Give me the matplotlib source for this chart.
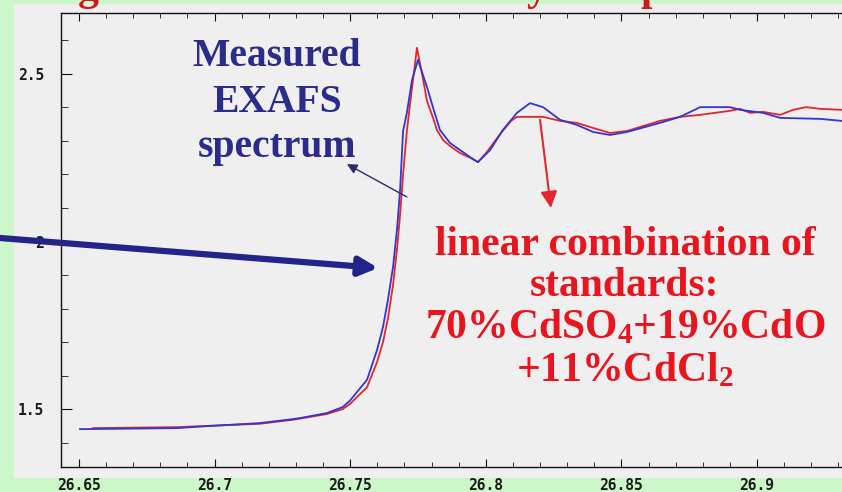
import matplotlib
matplotlib.use("Agg")
import matplotlib.pyplot as plt
from matplotlib.patches import Rectangle
from matplotlib.ticker import MultipleLocator

plt.rcParams["mathtext.fontset"] = "custom"
plt.rcParams["mathtext.rm"] = "Liberation Serif:bold"
plt.rcParams["mathtext.it"] = "Liberation Serif:bold"
plt.rcParams["mathtext.bf"] = "Liberation Serif:bold"

# Photon energy (keV) and normalised absorption of the measured spectrum
measured_energy = [26.6504, 26.6861, 26.6972, 26.7167, 26.7289, 26.7315, 26.7414,
                   26.7473, 26.7499, 26.7562, 26.7599, 26.7621, 26.7639, 26.7658,
                   26.7673, 26.7684, 26.7695, 26.7709, 26.7728, 26.7750, 26.7783,
                   26.7805, 26.7831, 26.7868, 26.7905, 26.7942, 26.7971, 26.8016,
                   26.8063, 26.8115, 26.8163, 26.8211, 26.8274, 26.8336, 26.8395,
                   26.8458, 26.8521, 26.8642, 26.8716, 26.8790, 26.8900, 26.8937,
                   26.9022, 26.9085, 26.9232, 26.9313]
measured_mu = [1.440, 1.443, 1.449, 1.458, 1.470, 1.473, 1.488,
               1.506, 1.525, 1.587, 1.676, 1.745, 1.825, 1.924,
               2.040, 2.154, 2.330, 2.384, 2.482, 2.542, 2.461,
               2.401, 2.333, 2.294, 2.273, 2.252, 2.237, 2.273,
               2.333, 2.384, 2.413, 2.401, 2.363, 2.348, 2.327,
               2.318, 2.327, 2.354, 2.372, 2.401, 2.401, 2.393,
               2.384, 2.369, 2.366, 2.360]

# Linear combination of reference standards
fit_energy = [26.6552, 26.6861, 26.7167, 26.7289, 26.7414, 26.7473, 26.7499,
              26.7562, 26.7599, 26.7621, 26.7639, 26.7658, 26.7673, 26.7684,
              26.7695, 26.7709, 26.7728, 26.7739, 26.7746, 26.7765, 26.7783,
              26.7805, 26.7820, 26.7842, 26.7868, 26.7905, 26.7942, 26.7971,
              26.8001, 26.8052, 26.8093, 26.8115, 26.8163, 26.8211, 26.8274,
              26.8336, 26.8395, 26.8458, 26.8521, 26.8642, 26.8716, 26.8790,
              26.8900, 26.8937, 26.8974, 26.9022, 26.9085, 26.9133, 26.9180,
              26.9232, 26.9313]
fit_mu = [1.443, 1.446, 1.456, 1.468, 1.485, 1.500, 1.515,
          1.565, 1.640, 1.700, 1.770, 1.870, 1.980, 2.080,
          2.200, 2.330, 2.460, 2.530, 2.578, 2.500, 2.420,
          2.370, 2.333, 2.303, 2.285, 2.264, 2.250, 2.237,
          2.264, 2.320, 2.360, 2.372, 2.372, 2.372, 2.360,
          2.354, 2.339, 2.324, 2.330, 2.360, 2.372, 2.378,
          2.390, 2.396, 2.384, 2.387, 2.378, 2.393, 2.401,
          2.396, 2.393]

x_ticks = [26.65, 26.7, 26.75, 26.8, 26.85, 26.9]
x_tick_labels = ["26.65", "26.7", "26.75", "26.8", "26.85", "26.9"]
y_ticks = [1.5, 2.0, 2.5]
y_tick_labels = ["1.5", "2", "2.5"]

W, H = 842, 492
fig = plt.figure(figsize=(W / 100, H / 100), dpi=100)
fig.patch.set_facecolor("#ccf7c8")
panel = "#efefef"
fig.patches.append(Rectangle((14 / W, 1 - 478 / H), 1 - 14 / W, 474 / H,
                             transform=fig.transFigure, facecolor=panel,
                             edgecolor="none", zorder=-10))

ax = fig.add_axes([61 / W, 1 - 467 / H, 1 - 61 / W, (467 - 13) / H])
ax.set_facecolor(panel)
ax.set_xlim(26.6434, 26.9313)
ax.set_ylim(1.327, 2.682)

ax.plot(fit_energy, fit_mu, color="#e3262c", lw=1.3, zorder=3)
ax.plot(measured_energy, measured_mu, color="#3333d6", lw=1.3, zorder=4)

ax.spines["right"].set_visible(False)
for s in ("left", "bottom", "top"):
    ax.spines[s].set_color("#111111")
    ax.spines[s].set_linewidth(1.0)

ax.set_xticks(x_ticks)
ax.set_xticklabels(x_tick_labels)
ax.set_yticks(y_ticks)
ax.set_yticklabels(y_tick_labels)
ax.xaxis.set_minor_locator(MultipleLocator(0.01))
ax.yaxis.set_minor_locator(MultipleLocator(0.1))
ax.tick_params(axis="x", which="both", direction="in", top=True, bottom=True,
               color="#111111")
ax.tick_params(axis="x", which="major", length=6, pad=8)
ax.tick_params(axis="x", which="minor", length=3.5)
ax.tick_params(axis="y", which="both", direction="in", left=True, right=False,
               color="#111111")
ax.tick_params(axis="y", which="major", length=8, pad=12)
ax.tick_params(axis="y", which="minor", length=5)
for lab in ax.get_xticklabels() + ax.get_yticklabels():
    lab.set_fontfamily("DejaVu Sans Mono")
    lab.set_fontweight("bold")
    lab.set_fontsize(10.5)
    lab.set_color("#1a1a1a")

serif = "Liberation Serif"

# Callout for the measured curve
ax.text(26.7230, 2.416, "Measured\nEXAFS\nspectrum", ha="center", va="center",
        fontfamily=serif, fontweight="bold", fontsize=28.5, color="#2b2b8c",
        linespacing=1.3, zorder=6)
ax.annotate("", xy=(26.7488, 2.231), xytext=(26.7709, 2.133),
            arrowprops=dict(arrowstyle="-|>,head_length=0.6,head_width=0.3",
                            color="#2b2b6e", lw=1.0, shrinkA=0, shrinkB=0),
            zorder=6)

# Thick pointer entering from the left edge
ax.annotate("", xy=(26.7603, 1.921), xycoords="data",
            xytext=(0.0, 1 - 238 / H), textcoords="figure fraction",
            arrowprops=dict(arrowstyle="-|>,head_length=1.1,head_width=0.55",
                            color="#23238a", lw=4.5, shrinkA=0, shrinkB=0),
            annotation_clip=False, zorder=7)

# Callout for the fitted combination
ax.text(26.8513, 1.802,
        "linear combination of\nstandards:\n70%CdSO$_4$+19%CdO\n+11%CdCl$_2$",
        ha="center", va="center", fontfamily=serif, fontweight="bold",
        fontsize=30, color="#e8141e", linespacing=1.12, zorder=6)
ax.annotate("", xy=(26.8240, 2.100), xytext=(26.8200, 2.363),
            arrowprops=dict(arrowstyle="-|>,head_length=1.0,head_width=0.5",
                            color="#e3262c", lw=1.5, shrinkA=0, shrinkB=0),
            zorder=6)

# Lower edge of the slide heading above the plot
for px, ch in ((88, "g"), (537, "y"), (652, "p")):
    fig.text(px / W, 1.0, ch, ha="center", va="baseline", fontfamily=serif,
             fontweight="bold", fontsize=30, color="#cc1a1a")

fig.savefig("out.png", dpi=100, facecolor=fig.get_facecolor())
